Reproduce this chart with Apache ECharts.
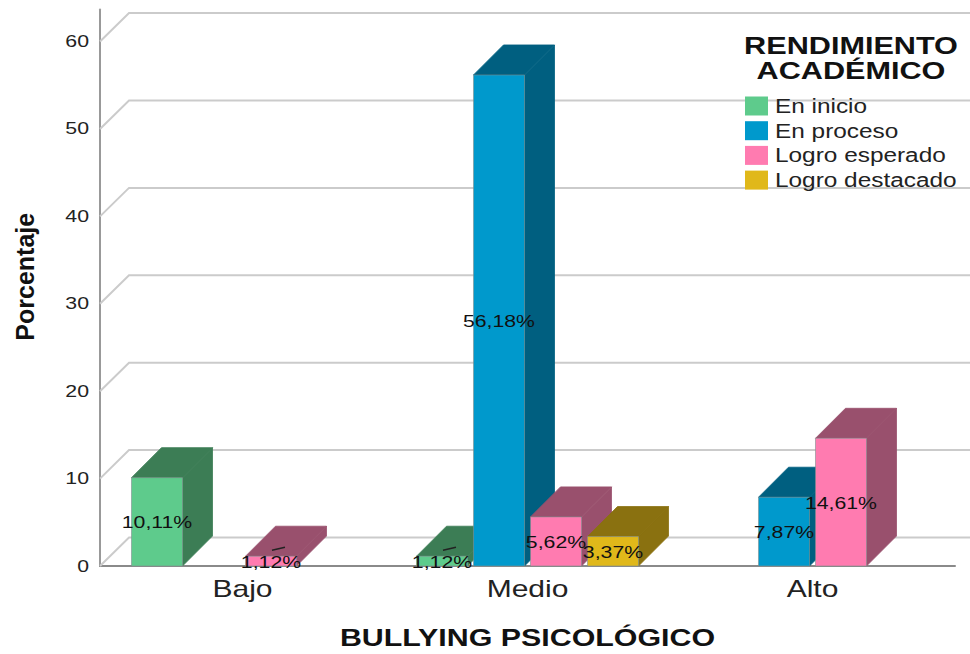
<!DOCTYPE html>
<html><head><meta charset="utf-8">
<style>html,body{margin:0;background:#fff}#c{width:970px;height:654px}</style>
<script src="https://cdn.jsdelivr.net/npm/echarts@6/dist/echarts.min.js"></script>
</head><body><div id="c"></div>
<script>
const categories = ['Bajo', 'Medio', 'Alto'];
const seriesNames = ['En inicio', 'En proceso', 'Logro esperado', 'Logro destacado'];
const enInicio = [10.11, 1.12, null];
const enProceso = [null, 56.18, 7.87];
const logroEsperado = [1.12, 5.62, 14.61];
const logroDestacado = [null, 3.37, null];
const yTicks = [0, 10, 20, 30, 40, 50, 60];
const allValues = [enInicio, enProceso, logroEsperado, logroDestacado];
const front = ['#5ecb8c', '#0099cc', '#ff7bb0', '#e0b81a'];
const shade = ['#3c7d55', '#005f80', '#99506d', '#8a7110'];
const FONT = '"Liberation Sans", Arial, sans-serif';
const DX = 30, DY = -30;

function slot(api, i, cat) {
  const bw = api.size([1, 0])[0];
  const cx = api.coord([cat, 0])[0] + (i - 1.5) * 0.2 * bw;
  return { cx, w: 0.179 * bw };
}
function barItem(i) {
  return function (params, api) {
    const s = slot(api, i, api.value(0));
    const y0 = api.coord([0, 0])[1], y1 = api.coord([0, api.value(1)])[1];
    const l = s.cx - s.w / 2, r = s.cx + s.w / 2;
    const st = { fill: shade[i], stroke: shade[i], lineWidth: 0.8 };
    return { type: 'group', children: [
      { type: 'polygon', shape: { points: [[l, y1], [r, y1], [r + DX, y1 + DY], [l + DX, y1 + DY]] }, style: st },
      { type: 'polygon', shape: { points: [[r, y1], [r + DX, y1 + DY], [r + DX, y0 + DY], [r, y0]] }, style: st },
      { type: 'rect', shape: { x: l, y: y1, width: s.w, height: y0 - y1 }, style: { fill: front[i], stroke: '#7f8f8f', lineWidth: 0.6 } }
    ] };
  };
}
function labelItem(i) {
  return function (params, api) {
    const s = slot(api, i, api.value(0));
    const v = api.value(1);
    const y0 = api.coord([0, 0])[1], y1 = api.coord([0, v])[1];
    const children = [{ type: 'text', style: {
      text: v.toFixed(2).replace('.', ',') + '%', x: s.cx, y: (y0 + y1) / 2 + 1,
      align: 'center', verticalAlign: 'middle', fill: '#111', font: '17px ' + FONT } }];
    if (v < 2) children.push({ type: 'line',
      shape: { x1: s.cx + 1, y1: y1 - 6, x2: s.cx + 14, y2: y1 - 9 },
      style: { stroke: '#222', lineWidth: 1.4 } });
    return { type: 'group', children };
  };
}
function wallItem(params, api) {
  const y = api.coord([0, api.value(0)])[1];
  const x0 = params.coordSys.x;
  return { type: 'polyline', shape: { points: [[x0, y], [x0 + 29, y - 28.5], [970, y - 28.5]] },
    style: { fill: 'none', stroke: '#cbcbcb', lineWidth: 2 } };
}
const toData = a => a.map((v, k) => [k, v]).filter(d => d[1] !== null);

const series = [{ type: 'custom', name: 'walls', z: 1, clip: false, silent: true, renderItem: wallItem,
  encode: { y: 0 }, data: yTicks.map(v => [v]) }];
allValues.forEach((vals, i) => series.push({ type: 'custom', name: seriesNames[i], z: 2 + i, clip: false, silent: true,
  itemStyle: { color: front[i] }, renderItem: barItem(i), encode: { x: 0, y: 1 }, data: toData(vals) }));
allValues.forEach((vals, i) => series.push({ type: 'custom', name: 'label ' + seriesNames[i], z: 10, clip: false, silent: true,
  renderItem: labelItem(i), encode: { x: 0, y: 1 }, data: toData(vals) }));

const chart = echarts.init(document.getElementById('c'), null, { renderer: 'svg' });
chart.setOption({
  animation: false,
  backgroundColor: '#fff',
  title: { text: 'RENDIMIENTO\nACADÉMICO', left: 846, top: 28, textAlign: 'center',
    textStyle: { fontFamily: FONT, fontSize: 24.5, fontWeight: 'bold', lineHeight: 25, color: '#111' } },
  legend: { data: seriesNames, orient: 'vertical', left: 745, top: 96, itemWidth: 23, itemHeight: 19, itemGap: 4.7,
    icon: 'rect', selectedMode: false, padding: 0,
    textStyle: { fontFamily: FONT, fontSize: 19.5, color: '#222', padding: [0, 0, 0, 2] } },
  grid: { left: 100, width: 855, top: 9.5, bottom: 88, outerBoundsMode: 'none' },
  xAxis: { type: 'category', data: categories,
    axisLine: { lineStyle: { color: '#8a8a8a', width: 2 } }, axisTick: { show: false },
    axisLabel: { fontFamily: FONT, fontSize: 24, color: '#222', margin: 10 },
    name: 'BULLYING PSICOLÓGICO', nameLocation: 'middle', nameGap: 59,
    nameTextStyle: { fontFamily: FONT, fontSize: 24.3, fontWeight: 'bold', color: '#111' } },
  yAxis: { type: 'value', min: 0, max: 63.67, interval: 10,
    axisLine: { show: true, lineStyle: { color: '#999', width: 2 } }, axisTick: { show: false }, splitLine: { show: false },
    axisLabel: { fontFamily: FONT, fontSize: 17, color: '#222', margin: 11, showMaxLabel: false },
    name: 'Porcentaje', nameLocation: 'middle', nameGap: 63, nameRotate: 90,
    nameTextStyle: { fontFamily: FONT, fontSize: 25, fontWeight: 'bold', color: '#111', padding: [0, 0, 0, 22] } },
  series
});
function stretch() {
  document.querySelectorAll('#c text').forEach(t => {
    if (t.textContent === 'Porcentaje' || t.hasAttribute('textLength')) return;
    const n = t.getComputedTextLength();
    if (n > 0) { t.setAttribute('lengthAdjust', 'spacingAndGlyphs'); t.setAttribute('textLength', (n * 1.25).toFixed(1)); }
  });
}
chart.on('finished', stretch);
stretch();
</script></body></html>
